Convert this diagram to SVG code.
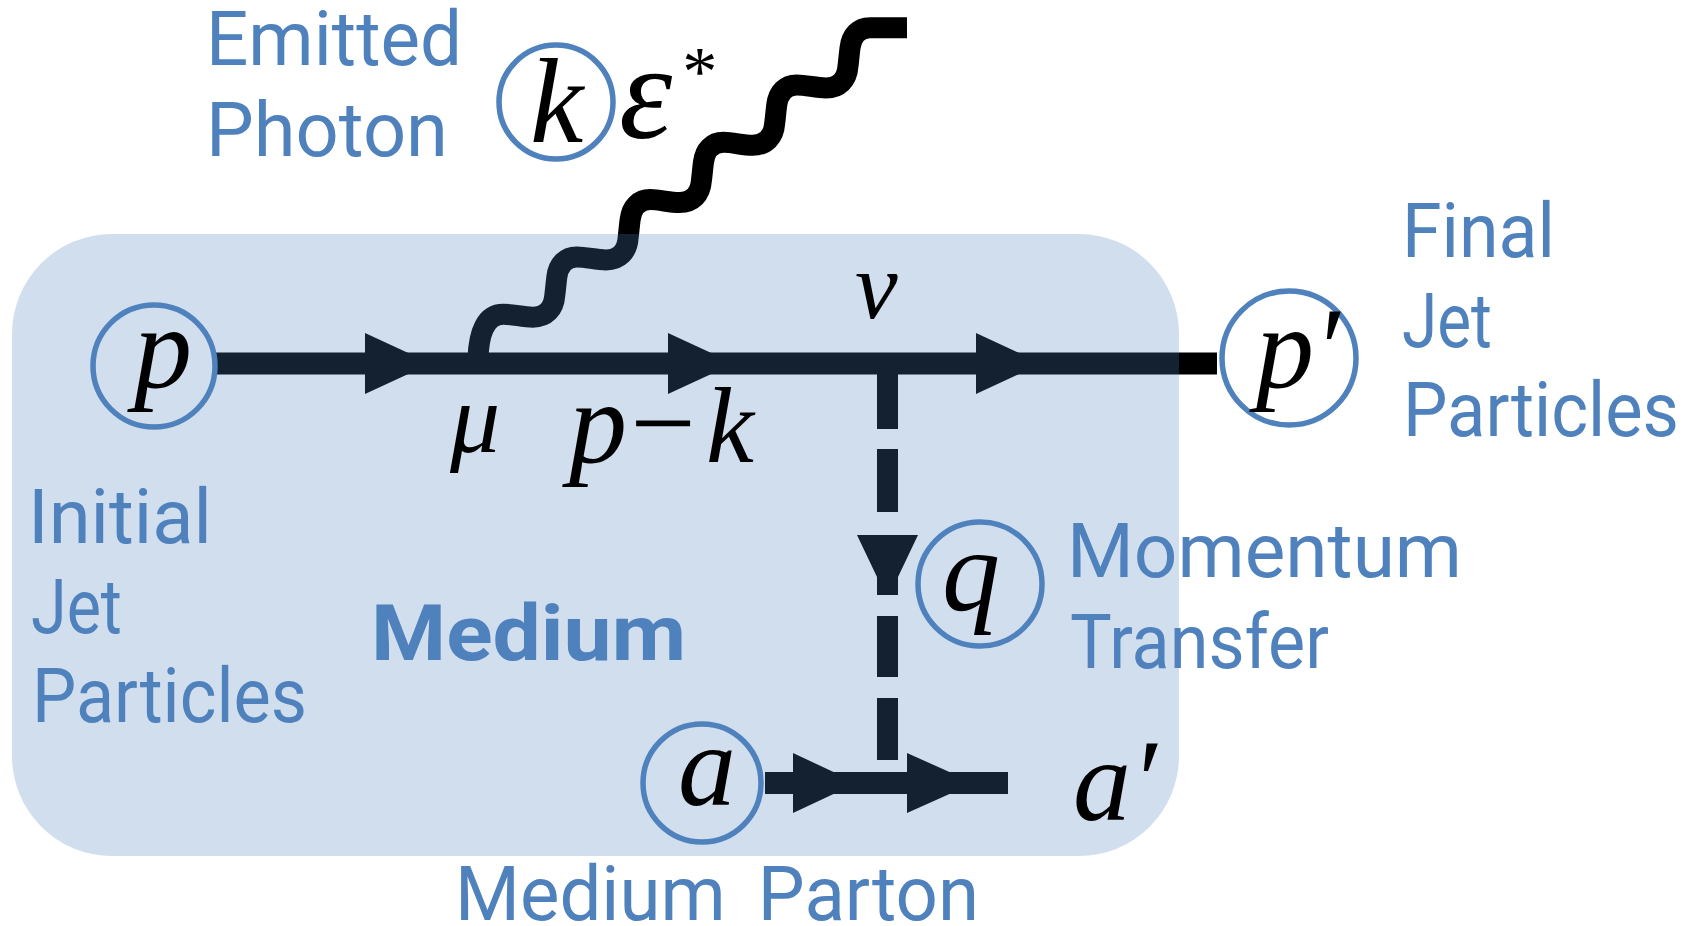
<svg xmlns="http://www.w3.org/2000/svg" width="1691" height="926" viewBox="0 0 1691 926">
<style>
.lbl{font-family:Roboto,"Noto Sans",sans-serif;font-size:76px;fill:#4f81bd}
.b{font-weight:700;font-size:78px}
.m{font-family:"Liberation Serif",serif;font-style:italic;font-size:116px;fill:#000}
.c{fill:none;stroke:#4f81bd;stroke-width:5.5}
.ln{fill:none;stroke:#000;stroke-width:22}
.h{fill:#000}
</style>
<rect width="1691" height="926" fill="#fff"/>
<g id="connectors">
<path class="ln" d="M216 363.500H1217"/>
<path class="ln" style="stroke-width:21" d="M478 358C479 332 486 314 503.500 314.200c10 0 19 3 29.300 3c13 0 21-8 22-22c1-8 1-10 2-18c1.500-13 9-20.300 20-20.300c10 0 19 3 29.300 3c13 0 21-8 22-22c1-8 1-10 2-18c1.500-13 9-20.300 20-20.300c10 0 19 3 29.300 3c13 0 21-8 22-22c1-8 1-10 2-18c1.500-13 9-20.300 20-20.300c10 0 19 3 29.300 3c13 0 21-8 22-22c1-8 1-10 2-18c1.500-13 9-20.300 20-20.300c10 0 19 3 29.300 3c13 0 21-8 22-22c1-8 1-10 2-18c1.500-13 9-20.300 20-20.300H907"/>
<polygon class="h" points="365,333 431,363.500 365,394"/>
<polygon class="h" points="668,333 734,363.500 668,394"/>
<polygon class="h" points="976,333 1042,363.500 976,394"/>
<path class="ln" style="stroke-width:21" d="M887.500 373V429M887.500 449V512M887.500 616V677M887.500 698V760"/>
<polygon class="h" points="857,535 918,535 898,577 898,595 877,595 877,577"/>
<path class="ln" d="M765 783H1008"/>
<polygon class="h" points="793,753 857,783 793,813"/>
<polygon class="h" points="907,753 974,783 907,813"/>
</g>
<g id="medium">
<rect x="12" y="234" width="1167" height="622" rx="100" fill="#4f81bd" fill-opacity=".26"/>
<text class="lbl b" x="371" y="660" textLength="315" lengthAdjust="spacingAndGlyphs">Medium</text>
</g>
<g id="node-k"><circle class="c" cx="556" cy="102" r="57"/><text class="m" style="font-size:120px" x="530" y="142">k</text></g>
<g id="node-p"><circle class="c" cx="154" cy="366" r="61"/><text class="m" x="134" y="387">p</text></g>
<g id="node-pp"><circle class="c" cx="1289" cy="358" r="67"/><text class="m" x="1256" y="387">p</text><text class="m" x="1314" y="388">′</text></g>
<g id="node-q"><circle class="c" cx="980" cy="584" r="62"/><text class="m" x="942" y="610">q</text></g>
<g id="node-a"><circle class="c" cx="702" cy="783" r="59"/><text class="m" x="678" y="805">a</text></g>
<g id="math">
<text class="m" style="font-size:135px" x="619" y="138">ε</text>
<text class="m" style="font-size:70px" x="679" y="95">*</text>
<text class="m" style="font-size:100px" x="450" y="452">μ</text>
<text class="m" x="569" y="462">p</text>
<text class="m" x="623" y="462">−</text>
<text class="m" style="font-size:108px" x="706" y="462">k</text>
<text class="m" style="font-size:96px" x="855" y="318">ν</text>
<text class="m" x="1073" y="820">a′</text>
</g>
<g id="labels">
<text class="lbl" x="206" y="65" textLength="256" lengthAdjust="spacingAndGlyphs">Emitted</text>
<text class="lbl" x="206" y="156" textLength="242" lengthAdjust="spacingAndGlyphs">Photon</text>
<text class="lbl" x="1402" y="257" textLength="153" lengthAdjust="spacingAndGlyphs">Final</text>
<text class="lbl" x="1402" y="347" textLength="90" lengthAdjust="spacingAndGlyphs">Jet</text>
<text class="lbl" x="1403" y="436" textLength="276" lengthAdjust="spacingAndGlyphs">Particles</text>
<text class="lbl" x="1067" y="577" textLength="395" lengthAdjust="spacingAndGlyphs">Momentum</text>
<text class="lbl" x="1070" y="668" textLength="259" lengthAdjust="spacingAndGlyphs">Transfer</text>
<text class="lbl" x="28" y="543" textLength="184" lengthAdjust="spacingAndGlyphs">Initial</text>
<text class="lbl" x="31" y="633" textLength="91" lengthAdjust="spacingAndGlyphs">Jet</text>
<text class="lbl" x="32" y="722" textLength="275" lengthAdjust="spacingAndGlyphs">Particles</text>
<text class="lbl" x="455" y="920" textLength="524" lengthAdjust="spacingAndGlyphs" style="word-spacing:14px">Medium Parton</text>
</g>
</svg>
